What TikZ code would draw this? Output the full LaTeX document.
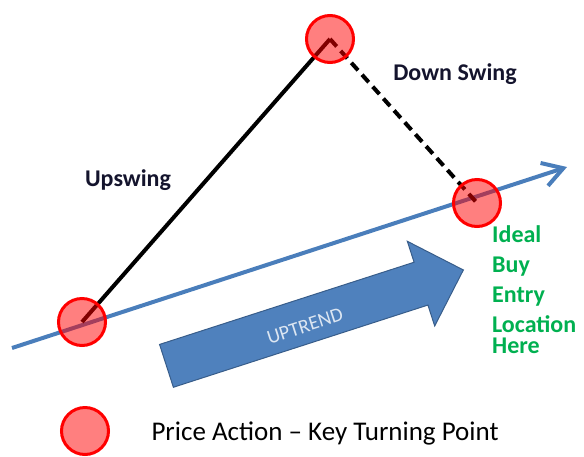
\documentclass[tikz,border=0pt]{standalone}
\usepackage{fontspec}
\setmainfont{Carlito}
\usetikzlibrary{arrows.meta,shapes.arrows}
\definecolor{trendblue}{RGB}{74,126,187}
\definecolor{arrowfill}{RGB}{79,129,189}
\definecolor{arrowedge}{RGB}{56,93,138}
\definecolor{buygreen}{RGB}{0,176,80}
\definecolor{labelink}{RGB}{20,20,45}
\definecolor{uptext}{RGB}{220,230,242}

\begin{document}
\begin{tikzpicture}[x=1pt,y=-1pt,
  turning/.style={circle,draw=red,line width=3pt,fill=red,fill opacity=0.5,draw opacity=1,minimum size=47pt,inner sep=0pt},
  swing/.style={font=\fontsize{24}{28}\selectfont\bfseries,text=labelink}]
\useasboundingbox (0,0) rectangle (584,456);
% points of the swing
\coordinate (low) at (82,322);
\coordinate (top) at (330,39);
\coordinate (entry) at (477,203);
% trend line
\coordinate (start) at (12,348);
\coordinate (end) at (567,167);
\draw[trendblue,line width=4pt,-{Straight Barb[length=20pt,width=24pt]}] (start) -- (end);
% big arrow
\node[single arrow,draw=arrowedge,fill=arrowfill,line width=1pt,rotate=17.9,minimum height=312pt,inner xsep=0pt,inner ysep=22pt,single arrow head extend=22pt,anchor=tail] (trend) at (166,366) {};
\node[rotate=17.9,text=uptext,font=\fontsize{20}{24}\selectfont] (uplabel) at (305,326) {UPTREND};
% swings
\draw[line width=4pt] (low) -- (top);
\draw[line width=4pt,dash pattern=on 10pt off 6pt] (top) -- (entry);
\node[turning] (lowring) at (low) {};
\node[turning] (topring) at (top) {};
\node[turning] (entryring) at (entry) {};
\node[swing,anchor=base] (upswing) at (128,186) {Upswing};
\node[swing,anchor=base] (downswing) at (455,80) {Down Swing};
\node[anchor=north west,inner sep=0pt,align=left,text=buygreen,font=\fontsize{24}{30}\selectfont\bfseries] (buy) at (492,225) {Ideal\\Buy\\Entry\\Location\\[-9pt]Here};
% legend
\node[turning] (key) at (85,431) {};
\node[anchor=base west,font=\fontsize{27}{31}\selectfont] (keytext) at (148,440) {Price Action \textendash{} Key Turning Point};
\end{tikzpicture}
\end{document}
